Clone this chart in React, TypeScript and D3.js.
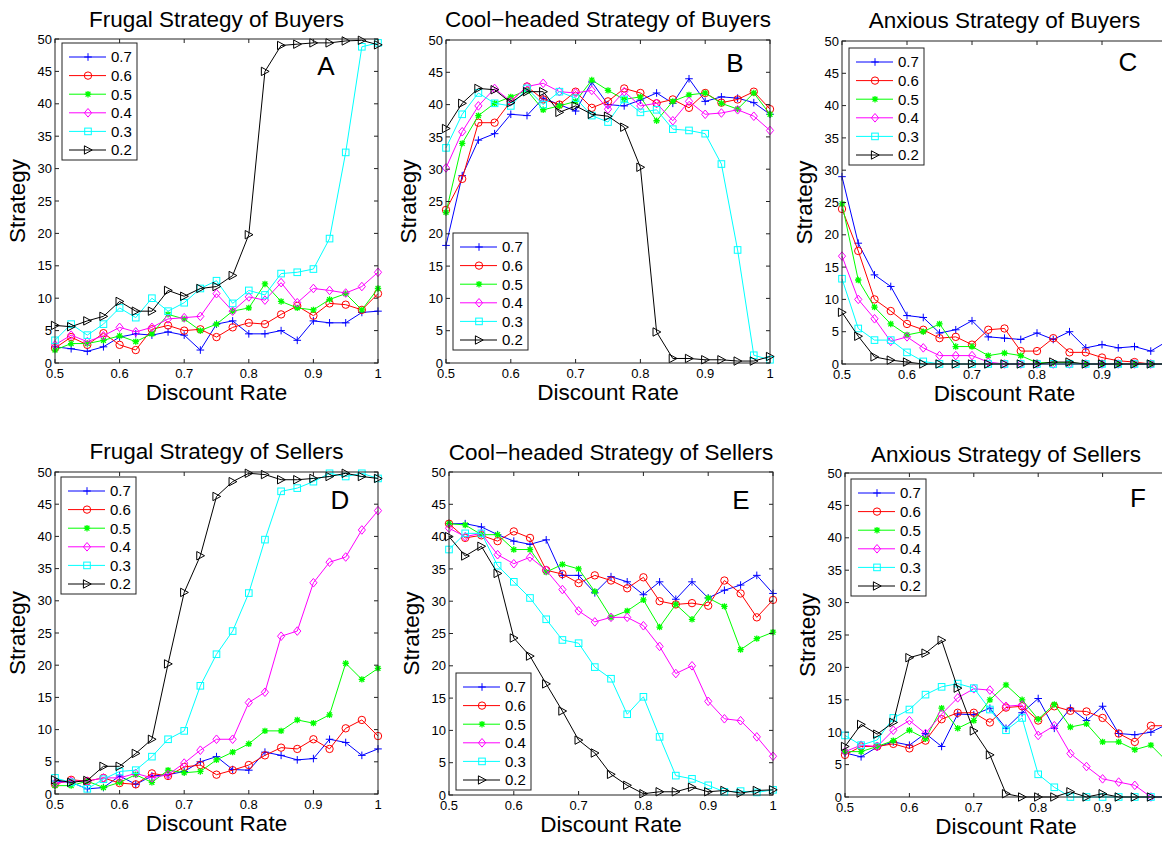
import React from 'react';
import * as d3 from 'd3';

const discountRates = [0.5, 0.525, 0.55, 0.575, 0.6, 0.625, 0.65, 0.675, 0.7, 0.725, 0.75, 0.775, 0.8, 0.825, 0.85, 0.875, 0.9, 0.925, 0.95, 0.975, 1.0];
const seriesLabels = ['0.7', '0.6', '0.5', '0.4', '0.3', '0.2'];
const yTicks = [0, 5, 10, 15, 20, 25, 30, 35, 40, 45, 50];
const xTicks = [0.5, 0.6, 0.7, 0.8, 0.9, 1];
const xTickLabels = ['0.5', '0.6', '0.7', '0.8', '0.9', '1'];

// Frugal strategy of buyers (rows: 0.7, 0.6, 0.5, 0.4, 0.3, 0.2)
const frugalBuyers07 = [2.5, 2.2, 1.8, 2.5, 4.0, 4.5, 4.3, 4.8, 4.3, 2.0, 6.0, 6.5, 4.5, 4.5, 5.0, 3.5, 6.5, 6.2, 6.2, 7.8, 8.0];
const frugalBuyers06 = [2.3, 4.0, 2.8, 4.6, 2.8, 2.0, 5.2, 5.8, 5.0, 5.2, 4.0, 5.5, 6.2, 6.0, 7.5, 8.8, 7.3, 9.2, 9.0, 8.2, 10.7];
const frugalBuyers05 = [2.0, 3.0, 3.0, 3.5, 4.2, 3.3, 4.5, 7.5, 6.8, 5.0, 6.0, 8.0, 8.5, 12.2, 9.5, 8.5, 8.2, 9.8, 10.7, 8.2, 11.5];
const frugalBuyers04 = [2.8, 4.3, 3.3, 4.2, 5.5, 4.8, 5.5, 6.8, 7.0, 7.2, 10.7, 8.0, 10.2, 9.7, 12.4, 9.3, 11.5, 11.2, 10.8, 11.8, 14.0];
const frugalBuyers03 = [3.5, 6.0, 4.3, 6.0, 8.5, 7.0, 10.0, 8.0, 9.3, 11.5, 12.7, 9.2, 11.2, 10.5, 13.8, 14.0, 14.5, 19.2, 32.5, 48.8, 49.4];
const frugalBuyers02 = [5.8, 5.6, 6.5, 7.2, 9.5, 8.0, 8.0, 11.2, 10.3, 11.5, 11.8, 13.5, 19.8, 45.0, 49.0, 49.2, 49.4, 49.4, 49.7, 49.8, 49.1];

// Cool-headed strategy of buyers
const coolBuyers07 = [18.2, 29.0, 34.5, 35.5, 38.5, 38.3, 41.0, 40.0, 39.0, 43.5, 40.0, 39.8, 40.7, 41.8, 40.2, 44.0, 40.5, 41.2, 41.0, 40.3, 38.5];
const coolBuyers06 = [23.7, 28.5, 37.2, 37.2, 40.5, 42.8, 40.8, 40.0, 42.0, 39.5, 40.5, 42.5, 41.8, 40.2, 40.8, 39.5, 41.8, 40.3, 40.8, 42.0, 39.3];
const coolBuyers05 = [23.3, 34.0, 38.3, 40.2, 41.2, 42.2, 39.2, 39.8, 40.5, 43.8, 42.2, 40.8, 41.2, 37.5, 40.5, 41.5, 41.8, 40.2, 39.3, 41.8, 38.5];
const coolBuyers04 = [30.2, 35.8, 39.8, 42.5, 40.5, 42.8, 43.3, 42.0, 41.8, 42.2, 39.3, 42.0, 39.8, 40.2, 37.5, 40.5, 38.5, 38.7, 39.2, 38.2, 36.0];
const coolBuyers03 = [33.3, 38.5, 41.8, 40.2, 39.8, 42.5, 40.0, 42.0, 41.0, 38.3, 37.3, 40.8, 38.8, 39.2, 36.2, 36.0, 35.5, 30.8, 17.5, 1.2, 0.5];
const coolBuyers02 = [36.3, 40.2, 42.5, 42.3, 40.3, 42.0, 42.0, 38.8, 39.8, 38.5, 38.2, 36.5, 30.3, 4.8, 0.7, 0.7, 0.5, 0.5, 0.3, 0.3, 1.0];

// Anxious strategy of buyers
const anxiousBuyers07 = [29.0, 18.7, 13.8, 12.0, 7.5, 7.2, 4.8, 5.3, 6.7, 4.2, 4.0, 3.8, 4.8, 3.8, 5.0, 2.5, 3.0, 2.5, 2.7, 2.0, 3.5];
const anxiousBuyers06 = [24.0, 17.5, 10.0, 8.2, 6.2, 5.3, 4.0, 4.2, 3.0, 5.3, 5.5, 2.0, 2.0, 4.0, 1.8, 1.8, 1.0, 0.5, 0.3, 0.0, 0.0];
const anxiousBuyers05 = [24.8, 13.0, 8.8, 6.2, 4.5, 5.0, 6.2, 2.7, 2.7, 1.3, 1.7, 1.3, 0.2, 0.2, 0.2, 0.0, 0.0, 0.0, 0.0, 0.0, 0.0];
const anxiousBuyers04 = [16.7, 10.0, 7.0, 3.5, 4.2, 2.5, 1.3, 1.3, 1.3, 0.3, 0.0, 0.0, 0.0, 0.0, 0.0, 0.0, 0.0, 0.0, 0.0, 0.0, 0.0];
const anxiousBuyers03 = [13.2, 5.5, 3.7, 3.7, 1.8, 0.4, 0.0, 0.0, 0.0, 0.0, 0.0, 0.0, 0.0, 0.0, 0.0, 0.0, 0.0, 0.0, 0.0, 0.0, 0.0];
const anxiousBuyers02 = [8.0, 4.3, 1.1, 0.6, 0.3, 0.0, 0.0, 0.0, 0.0, 0.0, 0.0, 0.0, 0.0, 0.3, 0.3, 0.0, 0.0, 0.0, 0.0, 0.0, 0.0];

// Frugal strategy of sellers
const frugalSellers07 = [2.0, 1.8, 0.8, 1.0, 2.8, 1.5, 2.8, 3.0, 3.5, 5.0, 5.8, 3.8, 3.7, 6.5, 6.0, 5.3, 5.5, 8.5, 8.0, 6.0, 7.0];
const frugalSellers06 = [1.5, 2.2, 2.0, 2.5, 1.7, 1.5, 3.2, 2.8, 4.2, 4.5, 3.0, 3.7, 4.5, 6.0, 7.2, 7.0, 8.5, 7.0, 10.2, 11.5, 9.0];
const frugalSellers05 = [1.3, 1.3, 2.0, 1.0, 1.8, 3.0, 1.8, 3.7, 3.3, 3.5, 5.3, 6.5, 7.8, 9.8, 9.8, 11.5, 11.0, 12.3, 20.3, 17.8, 19.5];
const frugalSellers04 = [1.7, 2.0, 2.0, 2.5, 2.5, 3.2, 2.5, 3.0, 4.8, 6.8, 8.5, 8.5, 14.2, 15.8, 24.5, 25.3, 32.8, 36.0, 36.8, 41.0, 44.0];
const frugalSellers03 = [2.5, 1.8, 0.8, 2.3, 3.5, 3.7, 5.8, 8.5, 9.8, 16.8, 21.7, 25.3, 31.2, 39.5, 47.0, 47.5, 48.5, 49.8, 49.3, 49.8, 49.0];
const frugalSellers02 = [2.2, 1.8, 2.1, 4.3, 4.3, 6.3, 8.5, 20.2, 31.3, 37.0, 46.2, 48.5, 49.8, 49.6, 48.8, 48.8, 49.0, 49.3, 49.8, 49.3, 49.0];

// Cool-headed strategy of sellers
const coolSellers07 = [42.0, 42.0, 41.5, 40.3, 39.3, 38.8, 39.5, 34.0, 34.0, 31.3, 33.8, 33.0, 31.0, 33.0, 30.3, 33.0, 30.5, 31.7, 32.5, 34.0, 31.2];
const coolSellers06 = [42.0, 39.8, 40.2, 39.3, 40.8, 39.8, 34.8, 34.2, 32.8, 34.0, 33.2, 32.0, 33.7, 30.0, 29.5, 29.7, 29.3, 33.2, 31.2, 27.5, 30.2];
const coolSellers05 = [42.0, 41.8, 40.3, 40.3, 38.0, 38.0, 34.5, 35.7, 35.0, 31.5, 27.5, 28.5, 30.2, 26.0, 29.5, 27.2, 30.5, 29.2, 22.5, 24.2, 25.2];
const coolSellers04 = [41.3, 40.0, 40.5, 37.2, 35.8, 36.8, 34.8, 31.8, 28.5, 26.8, 27.5, 27.5, 26.2, 23.0, 18.8, 20.0, 14.5, 11.8, 11.5, 9.0, 6.0];
const coolSellers03 = [38.0, 40.5, 40.5, 35.5, 33.0, 30.5, 27.2, 24.0, 23.5, 19.8, 18.0, 12.5, 15.2, 9.0, 3.0, 2.5, 1.5, 0.5, 0.6, 0.4, 0.8];
const coolSellers02 = [40.0, 37.0, 38.5, 34.3, 24.3, 21.5, 17.2, 13.0, 8.5, 6.5, 3.2, 1.5, 0.2, 0.5, 0.5, 1.2, 0.5, 0.7, 0.3, 0.7, 0.8];

// Anxious strategy of sellers
const anxiousSellers07 = [6.8, 6.2, 7.7, 8.5, 8.0, 9.8, 7.8, 12.8, 12.7, 13.7, 10.6, 13.0, 15.2, 10.6, 13.7, 11.8, 14.0, 9.8, 9.6, 10.0, 11.2];
const anxiousSellers06 = [6.5, 7.8, 7.8, 8.2, 7.5, 8.7, 12.0, 13.0, 13.0, 11.5, 13.8, 14.0, 11.8, 14.0, 13.3, 13.2, 12.2, 9.8, 8.5, 11.0, 11.0];
const anxiousSellers05 = [7.0, 7.0, 7.8, 8.7, 10.3, 9.0, 13.7, 10.6, 11.8, 15.0, 17.3, 15.0, 12.0, 14.3, 10.8, 11.3, 8.5, 8.5, 7.3, 8.0, 5.5];
const anxiousSellers04 = [7.0, 8.0, 7.8, 10.3, 11.8, 9.8, 12.8, 15.3, 16.7, 16.5, 14.0, 14.2, 9.5, 11.0, 6.7, 4.7, 2.8, 2.3, 1.8, 0.0, 0.0];
const anxiousSellers03 = [9.5, 8.0, 8.8, 12.2, 13.5, 15.8, 17.0, 17.5, 16.8, 13.5, 10.3, 12.2, 3.5, 1.5, 0.0, 0.0, 0.0, 0.0, 0.0, 0.0, 0.0];
const anxiousSellers02 = [7.8, 11.2, 9.7, 11.5, 21.5, 22.2, 24.2, 16.8, 10.2, 6.5, 0.5, 0.0, 0.0, 0.0, 0.8, 0.0, 0.5, 0.0, 0.0, 0.0, 0.0];

const seriesColors = ['#0000ff', '#ff0000', '#00ff00', '#ff00ff', '#00ffff', '#000000'];
const seriesMarkers = ['plus', 'circle', 'star', 'diamond', 'square', 'triangle'];

const FONT = '"Liberation Sans", Arial, Helvetica, sans-serif';
const WIDTH = 1162;
const HEIGHT = 841;

const panels = [
  { title: 'Frugal Strategy of Buyers', letter: 'A', data: [frugalBuyers07, frugalBuyers06, frugalBuyers05, frugalBuyers04, frugalBuyers03, frugalBuyers02],
    x0: 55, x1: 378, y0: 39, y1: 363, legend: [62, 43], letterPos: [326, 75], titleY: 27 },
  { title: 'Cool\u2212headed Strategy of Buyers', letter: 'B', data: [coolBuyers07, coolBuyers06, coolBuyers05, coolBuyers04, coolBuyers03, coolBuyers02],
    x0: 446, x1: 770, y0: 40, y1: 363, legend: [453, 233], letterPos: [735, 72], titleY: 27 },
  { title: 'Anxious Strategy of Buyers', letter: 'C', data: [anxiousBuyers07, anxiousBuyers06, anxiousBuyers05, anxiousBuyers04, anxiousBuyers03, anxiousBuyers02],
    x0: 842, x1: 1167, y0: 41, y1: 364, legend: [849, 48], letterPos: [1128, 71], titleY: 28 },
  { title: 'Frugal Strategy of Sellers', letter: 'D', data: [frugalSellers07, frugalSellers06, frugalSellers05, frugalSellers04, frugalSellers03, frugalSellers02],
    x0: 55, x1: 378, y0: 472, y1: 794, legend: [61, 477], letterPos: [340, 509], titleY: 459 },
  { title: 'Cool\u2212headed Strategy of Sellers', letter: 'E', data: [coolSellers07, coolSellers06, coolSellers05, coolSellers04, coolSellers03, coolSellers02],
    x0: 449, x1: 773, y0: 472, y1: 795, legend: [456, 673], letterPos: [741, 509], titleY: 460 },
  { title: 'Anxious Strategy of Sellers', letter: 'F', data: [anxiousSellers07, anxiousSellers06, anxiousSellers05, anxiousSellers04, anxiousSellers03, anxiousSellers02],
    x0: 845, x1: 1167, y0: 473, y1: 797, legend: [851, 479], letterPos: [1138, 507], titleY: 462 },
];

function Marker({ type, x, y, color }: { type: string; x: number; y: number; color: string }) {
  const common = { stroke: color, fill: 'none', strokeWidth: 1 };
  switch (type) {
    case 'plus':
      return <path d={`M${x - 3.8},${y}H${x + 3.8}M${x},${y - 3.8}V${y + 3.8}`} {...common} />;
    case 'circle':
      return <circle cx={x} cy={y} r={3.7} {...common} />;
    case 'star': {
      const s = 3.2, d = 2.4;
      return <path d={`M${x - s},${y}H${x + s}M${x},${y - s}V${y + s}M${x - d},${y - d}L${x + d},${y + d}M${x - d},${y + d}L${x + d},${y - d}`} {...common} strokeWidth={1.3} />;
    }
    case 'diamond':
      return <path d={`M${x},${y - 4.3}L${x + 3.6},${y}L${x},${y + 4.3}L${x - 3.6},${y}Z`} {...common} />;
    case 'square':
      return <rect x={x - 3.3} y={y - 3.3} width={6.6} height={6.6} {...common} />;
    case 'triangle':
      return <path d={`M${x + 4.2},${y}L${x - 3.6},${y - 4.2}L${x - 3.6},${y + 4.2}Z`} {...common} />;
    default:
      return null;
  }
}

function Panel({ p }: { p: any }) {
  const x = d3.scaleLinear().domain([0.5, 1]).range([p.x0, p.x1]);
  const y = d3.scaleLinear().domain([0, 50]).range([p.y1, p.y0]);
  const line = d3.line<number>().x((_, i) => x(discountRates[i])).y((v) => y(v));
  const tl = 4;
  const cx = (p.x0 + p.x1) / 2;
  const cy = (p.y0 + p.y1) / 2;
  const lg = p.legend;
  return (
    <g>
      <rect x={p.x0} y={p.y0} width={p.x1 - p.x0} height={p.y1 - p.y0} fill="#fff" />
      {p.data.map((vals: number[], si: number) => (
        <g key={si}>
          <path d={line(vals) || ''} fill="none" stroke={seriesColors[si]} strokeWidth={1} />
          {vals.map((v, i) => (
            <Marker key={i} type={seriesMarkers[si]} x={x(discountRates[i])} y={y(v)} color={seriesColors[si]} />
          ))}
        </g>
      ))}
      <rect x={p.x0} y={p.y0} width={p.x1 - p.x0} height={p.y1 - p.y0} fill="none" stroke="#222" strokeWidth={1} />
      {yTicks.map((t) => (
        <g key={'y' + t}>
          <line x1={p.x0} x2={p.x0 + tl} y1={y(t)} y2={y(t)} stroke="#222" />
          <line x1={p.x1} x2={p.x1 - tl} y1={y(t)} y2={y(t)} stroke="#222" />
          <text x={p.x0 - 3} y={y(t)} dy="0.36em" textAnchor="end" fontSize={13} fontFamily={FONT} fill="#000">{t}</text>
        </g>
      ))}
      {xTicks.map((t, i) => (
        <g key={'x' + t}>
          <line x1={x(t)} x2={x(t)} y1={p.y1} y2={p.y1 - tl} stroke="#222" />
          <line x1={x(t)} x2={x(t)} y1={p.y0} y2={p.y0 + tl} stroke="#222" />
          {x(t) + 4 <= WIDTH && (
            <text x={x(t)} y={p.y1 + 15} textAnchor="middle" fontSize={13} fontFamily={FONT} fill="#000">{xTickLabels[i]}</text>
          )}
        </g>
      ))}
      <text x={cx} y={p.titleY} textAnchor="middle" fontSize={22.5} fontFamily={FONT} fill="#000">{p.title}</text>
      <text x={cx} y={p.y1 + 37} textAnchor="middle" fontSize={22.5} fontFamily={FONT} fill="#000">Discount Rate</text>
      <text transform={`translate(${p.x0 - 30},${cy}) rotate(-90)`} textAnchor="middle" fontSize={22.5} fontFamily={FONT} fill="#000">Strategy</text>
      <text x={p.letterPos[0]} y={p.letterPos[1]} textAnchor="middle" fontSize={26} fontFamily={FONT} fill="#000">{p.letter}</text>
      <g>
        <rect x={lg[0]} y={lg[1]} width={75} height={117} fill="#fff" stroke="#222" strokeWidth={1} />
        {seriesLabels.map((lab, i) => {
          const ry = lg[1] + 14 + i * 18.6;
          return (
            <g key={lab}>
              <line x1={lg[0] + 7} x2={lg[0] + 44} y1={ry} y2={ry} stroke={seriesColors[i]} strokeWidth={1} />
              <Marker type={seriesMarkers[i]} x={lg[0] + 26} y={ry} color={seriesColors[i]} />
              <text x={lg[0] + 49} y={ry} dy="0.36em" fontSize={15} fontFamily={FONT} fill="#000">{lab}</text>
            </g>
          );
        })}
      </g>
    </g>
  );
}

export default function App() {
  return (
    <svg width={WIDTH} height={HEIGHT} style={{ position: 'absolute', left: 0, top: 0, background: '#fff' }}>
      <rect x={0} y={0} width={WIDTH} height={HEIGHT} fill="#fff" />
      {panels.map((p) => (
        <Panel key={p.letter} p={p} />
      ))}
    </svg>
  );
}
